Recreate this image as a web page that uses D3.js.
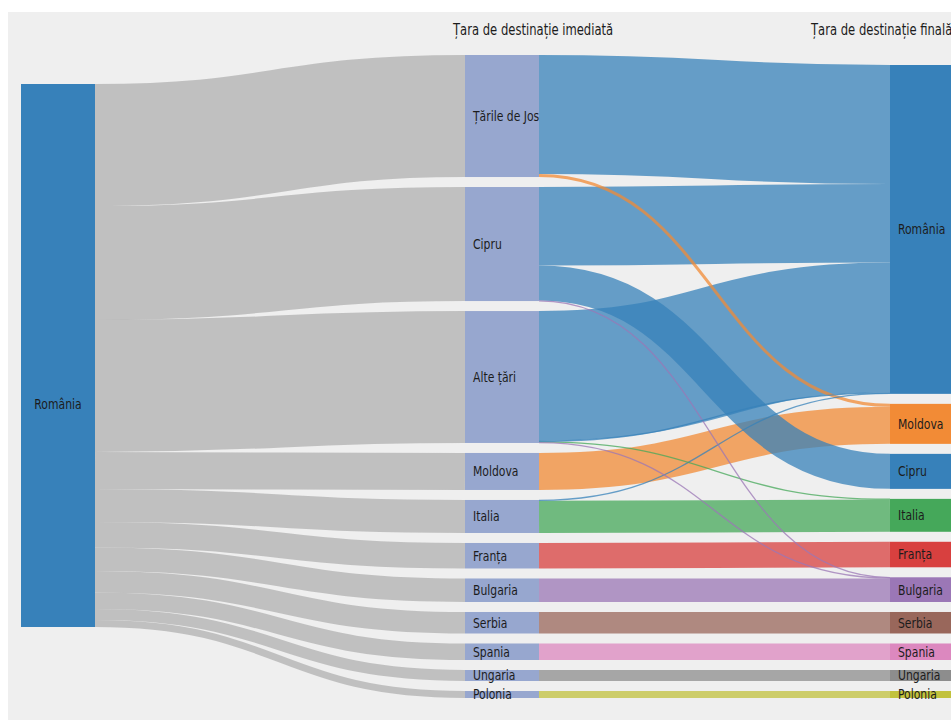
<!DOCTYPE html>
<html>
<head>
<meta charset="utf-8">
<script src="https://cdn.jsdelivr.net/npm/d3@7"></script>
<style>
  body { margin: 0; background: #fff; }
  text { font-family: "Liberation Sans Narrow", "DejaVu Sans Condensed", "Roboto", sans-serif; fill: #1c1c1c; }
</style>
</head>
<body>
<svg id="chart" width="951" height="720"></svg>
<script>
// columns of the diagram
const origin = ['România'];
const immediate = ['Țările de Jos', 'Cipru', 'Alte țări', 'Moldova', 'Italia', 'Franța', 'Bulgaria', 'Serbia', 'Spania', 'Ungaria', 'Polonia'];
const finalDest = ['România', 'Moldova', 'Cipru', 'Italia', 'Franța', 'Bulgaria', 'Serbia', 'Spania', 'Ungaria', 'Polonia'];
const headers = ['Țara de destinație imediată', 'Țara de destinație finală'];

// flows immediate -> final destination
const flowFrom = ['Țările de Jos', 'Țările de Jos', 'Cipru', 'Cipru', 'Cipru', 'Alte țări', 'Alte țări', 'Alte țări', 'Alte țări', 'Moldova', 'Italia', 'Italia', 'Franța', 'Bulgaria', 'Serbia', 'Spania', 'Ungaria', 'Polonia'];
const flowTo = ['România', 'Moldova', 'România', 'Cipru', 'Bulgaria', 'România', 'România', 'Italia', 'Bulgaria', 'Moldova', 'România', 'Italia', 'Franța', 'Bulgaria', 'Serbia', 'Spania', 'Ungaria', 'Polonia'];
const flowValue = [1190, 30, 785, 350, 5, 1300, 5, 7, 7, 370, 8, 322, 255, 235, 215, 165, 110, 70];

const finalColors = ['#3781ba', '#f28b36', '#3781ba', '#45a85a', '#d8403f', '#9b77b6', '#99675b', '#dc88bf', '#8d8d8d', '#c2c23d'];

// layout settings
const colX = [21, 465, 890];
const colTop = [84, 55, 65];
const nodeW = 74;
const pad = 10;
const midBottom = 698;
const squeeze = 0.86; // narrow the glyphs to look like a condensed face

const svg = d3.select('#chart');

svg.append('rect')
  .attr('x', 8).attr('y', 12)
  .attr('width', 951 - 8).attr('height', 720 - 12)
  .attr('fill', '#efefef');

// build nodes
const columns = [origin, immediate, finalDest].map(function (names, ci) {
  return names.map(function (name, i) {
    return { name: name, col: ci, idx: i, inLinks: [], outLinks: [], value: 0 };
  });
});
function findNode(ci, name) { return columns[ci].find(d => d.name === name); }

const links = [];
// right-hand flows
flowFrom.forEach(function (s, i) {
  links.push({ source: findNode(1, s), target: findNode(2, flowTo[i]), value: flowValue[i], index: 100 + i });
});
// left-hand flows: origin -> each immediate country, sized by what leaves it
immediate.forEach(function (name, i) {
  const n = findNode(1, name);
  const v = d3.sum(links.filter(l => l.source === n), l => l.value);
  links.push({ source: columns[0][0], target: n, value: v, index: i });
});
links.sort((a, b) => a.index - b.index);
links.forEach(function (l) { l.source.outLinks.push(l); l.target.inLinks.push(l); });
columns.flat().forEach(function (n) {
  n.value = Math.max(d3.sum(n.inLinks, l => l.value), d3.sum(n.outLinks, l => l.value));
});

const midTotal = d3.sum(columns[1], d => d.value);
const ky = (midBottom - colTop[1] - pad * (columns[1].length - 1)) / midTotal;

columns.forEach(function (col, ci) {
  let y = colTop[ci];
  col.forEach(function (n) {
    n.x0 = colX[ci]; n.x1 = colX[ci] + nodeW;
    n.y0 = y; n.y1 = y + n.value * ky;
    y = n.y1 + pad;
  });
});

// link breadths
links.forEach(l => { l.width = l.value * ky; });
columns.flat().forEach(function (n) {
  let y = n.y0;
  n.outLinks.slice().sort((a, b) => (a.target.y0 - b.target.y0) || (a.index - b.index)).forEach(function (l) {
    l.sy = y + l.width / 2; y += l.width;
  });
  y = n.y0;
  n.inLinks.slice().sort((a, b) => (a.source.y0 - b.source.y0) || (a.index - b.index)).forEach(function (l) {
    l.ty = y + l.width / 2; y += l.width;
  });
});

function nodeColor(n) {
  if (n.col === 0) return '#3781ba';
  if (n.col === 1) return '#97a7cf';
  return finalColors[n.idx];
}

const linkPath = d3.linkHorizontal();

svg.append('g')
  .selectAll('path')
  .data(links.slice().sort((a, b) => b.width - a.width))
  .join('path')
  .attr('d', d => linkPath({ source: [d.source.x1, d.sy], target: [d.target.x0, d.ty] }))
  .attr('fill', 'none')
  .attr('stroke', d => d.source.col === 0 ? '#b0b0b0' : nodeColor(d.target))
  .attr('stroke-opacity', 0.75)
  .attr('stroke-width', d => Math.max(1.3, d.width));

const node = svg.append('g')
  .selectAll('g')
  .data(columns.flat())
  .join('g');

node.append('rect')
  .attr('x', d => d.x0)
  .attr('y', d => d.y0)
  .attr('width', d => d.x1 - d.x0)
  .attr('height', d => d.y1 - d.y0)
  .attr('fill', nodeColor);

node.append('text')
  .attr('transform', function (d) {
    const x = d.col === 0 ? (d.x0 + d.x1) / 2 : d.x0 + 8;
    // the origin label sits a little below the middle of its bar
    const y = d.col === 0 ? d.y0 + (d.y1 - d.y0) * 0.59 : (d.y0 + d.y1) / 2;
    return 'translate(' + x + ',' + y + ') scale(' + squeeze + ',1)';
  })
  .attr('dy', '0.35em')
  .attr('text-anchor', d => d.col === 0 ? 'middle' : 'start')
  .style('font-size', '14px')
  .text(d => d.name);

// column headers
svg.append('g')
  .selectAll('text')
  .data(headers)
  .join('text')
  .attr('transform', (d, i) => 'translate(' + (colX[i + 1] - (i === 0 ? 12 : 79)) + ',35) scale(' + squeeze + ',1)')
  .style('font-size', '15px')
  .text(d => d);
</script>
</body>
</html>
